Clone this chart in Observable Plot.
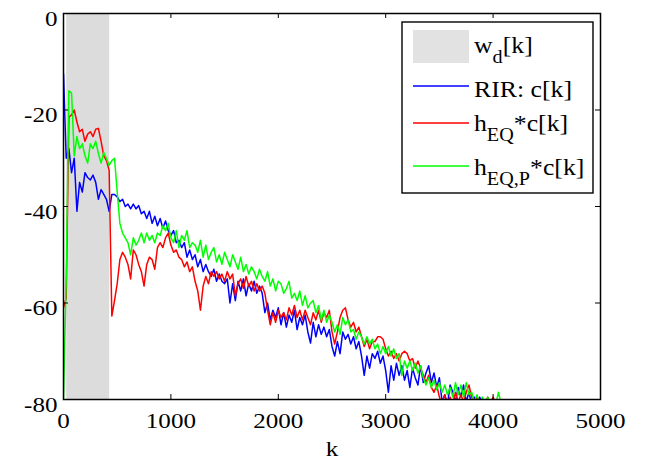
<!DOCTYPE html>
<html>
<head>
<meta charset="utf-8">
<script src="https://cdn.jsdelivr.net/npm/d3@7"></script>
<script src="https://cdn.jsdelivr.net/npm/@observablehq/plot@0.6"></script>
<style>
  html, body { margin: 0; padding: 0; background: #fff; overflow: hidden; }
  #chart { width: 647px; height: 462px; }
  #chart svg text { font-family: "Liberation Serif", "Times New Roman", "DejaVu Serif", serif !important; }
</style>
</head>
<body>
<div id="chart"></div>
<script>
// ---- data ----
const kStep = 25; // sample spacing of the listed values along k
const rirC = [
-12.5,-30,-28,-33,-30,-41,-35,-37,-33,-34,
-34.5,-33.5,-35,-38.5,-36.5,-37.5,-38.5,-41,-37.5,-37.5,
-38,-39,-38.5,-40,-39.5,-40.5,-39.5,-40.5,-39.8,-41.5,
-41,-42.5,-41,-43.5,-42,-44,-42.5,-44.5,-43,-45,
-46,-45,-47.5,-47,-48.5,-47.5,-50.5,-49,-51,-50,
-52.5,-51,-53.5,-52,-53.5,-54.5,-53,-55.5,-54,-55.5,
-56,-55,-60,-56,-59.5,-55.5,-57.5,-55,-58.5,-56,
-57.5,-55.5,-58,-56.5,-58,-62,-60,-63.5,-61.5,-63,
-61,-64.5,-62,-65,-62.5,-64,-61.5,-65.5,-63,-64.5,
-62.5,-66,-68.3,-64,-67,-64.5,-66.5,-65,-67,-65.5,
-69,-71,-68,-70.5,-66,-67.5,-66.5,-68.5,-67,-69.5,
-68,-71,-75,-71,-73.5,-70.5,-71.5,-70,-72.5,-71,
-74,-78.5,-73,-76,-72.5,-75,-73,-76,-74,-77.5,
-73.5,-75.5,-77,-73,-76.5,-74.5,-73,-76.5,-74.5,-77.5,
-75.5,-80.5,-79,-81,-77,-78.5,-80.5,-77.5,-79.5,-77,
-80.5,-78.5,-81,-79.5,-80.5,-79.5,-81,-80,-81.5
];
const hEQc = [
-61,-59,-21.5,-21,-20,-22.5,-24.5,-24,-26.5,-25,
-24.5,-25.5,-24,-23.8,-26.5,-29.5,-30.5,-32.5,-62.7,-59.5,
-56,-51,-49.5,-50.5,-52,-55,-49,-50,-52,-53.5,
-56.5,-52,-50.5,-51,-53,-48.5,-47.5,-48.5,-46.5,-45.5,
-48,-49.5,-49,-50.5,-51,-52.5,-51.5,-53.5,-52.5,-55.5,
-57.5,-61.5,-56.5,-54.5,-56,-53.5,-54.5,-53.5,-55,-54,
-55.5,-53.5,-55,-54,-58.5,-56,-55,-57,-54.5,-56.5,
-55.5,-57.5,-56,-57.5,-56.5,-58,-61.5,-64.5,-62,-64,
-61.5,-63,-62,-63.5,-61,-62.5,-60.5,-63,-61.5,-63.5,
-61.5,-63,-64.5,-62,-63.5,-61.5,-64,-62,-63,-61.5,
-66,-68.5,-66,-63,-61.5,-61,-63.5,-65,-64,-66,
-65,-67,-69,-67.5,-69.5,-68,-68,-67,-67,-67.5,
-69.5,-71,-70,-71.5,-70.5,-72,-70.5,-70,-70.5,-72,
-71.5,-73.5,-72,-73.5,-75,-76.5,-75,-77.5,-78.5,-77,
-79.5,-81,-79,-81,-79.5,-81,-78.5,-80.5,-79,-80.5,
-78.5,-77,-79.5,-81,-79.5,-81,-80,-81,-79.5,-81,
-79.5,-81
];
const hEQPc = [
-80,-55,-16,-16.5,-29.5,-25.5,-28,-27,-29.5,-31,
-27,-28,-26.5,-29,-31,-28.8,-30,-31.5,-30.5,-30,
-37,-43.5,-45.5,-46.5,-47.5,-50,-46.5,-48,-47,-45.5,
-47.5,-45.5,-47,-46,-47.5,-45.5,-46,-44,-45,-43.5,
-46.5,-47.5,-45,-48.5,-46,-47,-45,-48.5,-47.5,-48,
-49.5,-47,-50.5,-48,-51,-49.5,-48.5,-51.5,-50,-52,
-49.5,-51,-52.5,-50,-51.5,-53,-50.5,-53.5,-52,-54,
-52.5,-53.5,-55,-53,-54.5,-55.5,-53.5,-56.5,-55,-57.5,
-55.5,-56,-58,-57,-55.5,-59,-58,-59.5,-57.5,-60.5,
-58.5,-61,-60,-59.5,-62,-60.5,-63.5,-61.5,-64,-62.5,
-64,-66,-64.5,-66.5,-63,-64.5,-63.5,-66,-65.5,-67.5,
-66,-67,-68.5,-67,-68.5,-67.5,-69.5,-68.5,-70.5,-69,
-70.5,-69,-71,-69.5,-71.5,-70.5,-75,-72,-73.5,-72,
-74,-72.5,-74.5,-73,-75.5,-77,-75.5,-77.5,-76,-78,
-76.5,-78.5,-77,-79,-77.5,-79.5,-76.5,-79,-77,-79.5,
-76.5,-79,-78.5,-80.5,-79,-81,-79.5,-81,-79.5,-81,
-80.5,-81,-78.5,-81
];
const wdWindow = [30, 430];           // window w_d[k] extent in k
const xTicks = [0, 1000, 2000, 3000, 4000, 5000];
const yTicks = [0, -20, -40, -60, -80];
const xDomain = [0, 5000];
const yDomain = [-80, 0];
const xLabel = "k";
const seriesColors = ["#0000ff", "#ff0000", "#00ff00"];

// ---- layout ----
const W = 647, H = 462;
const mL = 63, mR = 47, mT = 13, mB = 63;
const innerW = W - mL - mR, innerH = H - mT - mB;
const tickLen = 5;
const serif = "Liberation Serif, Times New Roman, DejaVu Serif, serif";

const toRows = (arr) => arr.map((v, i) => ({k: i * kStep, v}));
const series = [toRows(rirC), toRows(hEQc), toRows(hEQPc)];

const svg = Plot.plot({
  width: W, height: H,
  marginLeft: mL, marginRight: mR, marginTop: mT, marginBottom: mB,
  x: {domain: xDomain, axis: null},
  y: {domain: yDomain, axis: null},
  style: {fontFamily: serif, fontSize: "22px", color: "black", background: "white"},
  marks: [
    Plot.rect([wdWindow], {x1: d => d[0], x2: d => d[1], y1: yDomain[0], y2: yDomain[1], fill: "#dcdcdc"}),
    ...series.map((rows, i) => Plot.line(rows, {x: "k", y: "v", stroke: seriesColors[i], strokeWidth: 1.5, curve: "linear", clip: true})),
    Plot.ruleX(xTicks, {x: d => d, insetTop: innerH - tickLen, stroke: "black"}),
    Plot.ruleX(xTicks, {x: d => d, insetBottom: innerH - tickLen, stroke: "black"}),
    Plot.ruleY(yTicks, {y: d => d, insetRight: innerW - tickLen, stroke: "black"}),
    Plot.ruleY(yTicks, {y: d => d, insetLeft: innerW - tickLen, stroke: "black"}),
    Plot.frame({stroke: "black", strokeWidth: 1.5}),
    Plot.text(xTicks, {x: d => d, text: d => String(d), frameAnchor: "bottom", lineAnchor: "top", dy: 13, fontSize: 22, fill: "black"}),
    Plot.text(yTicks, {y: d => d, text: d => String(d), frameAnchor: "left", textAnchor: "end", dx: -6, dy: 5, fontSize: 22, fill: "black"}),
    Plot.text([xLabel], {text: d => d, frameAnchor: "bottom", lineAnchor: "top", dy: 41, fontSize: 22, fill: "black"})
  ]
});

// horizontal stretch of the serif glyphs, as in the reference
const stretch = 1.14;
d3.select(svg).selectAll("text").each(function () {
  const t = this.getAttribute("transform");
  if (t) this.setAttribute("transform", t + ` scale(${stretch},1)`);
});

// ---- legend (inside the axes, upper right) ----
const legendItems = [
  {type: "patch", parts: [["w", 0], ["d", 1], ["[k]", 0]], y: 46},
  {type: "line", color: seriesColors[0], parts: [["RIR: c[k]", 0]], y: 86},
  {type: "line", color: seriesColors[1], parts: [["h", 0], ["EQ", 1], ["*c[k]", 0]], y: 123},
  {type: "line", color: seriesColors[2], parts: [["h", 0], ["EQ,P", 1], ["*c[k]", 0]], y: 166}
];
const baselines = [53, 97, 131, 175];
const lg = d3.select(svg).append("g").attr("fill", "black").attr("text-anchor", "start");
lg.append("rect").attr("x", 402).attr("y", 22).attr("width", 191).attr("height", 171)
  .attr("fill", "white").attr("stroke", "black").attr("stroke-width", 1.4);
legendItems.forEach((it, i) => {
  if (it.type === "patch") {
    lg.append("rect").attr("x", 413).attr("y", 30).attr("width", 56).attr("height", 33).attr("fill", "#e2e2e2");
  } else {
    lg.append("line").attr("x1", 413).attr("x2", 469).attr("y1", it.y).attr("y2", it.y)
      .attr("stroke", it.color).attr("stroke-width", 1.3);
  }
  const t = lg.append("text").attr("transform", `translate(474,${baselines[i]}) scale(1.12,1)`)
    .attr("font-size", 23).attr("text-anchor", "start");
  let sub = false;
  it.parts.forEach(([s, isSub]) => {
    const ts = t.append("tspan").text(s);
    if (isSub && !sub) { ts.attr("dy", 10).attr("font-size", 18); sub = true; }
    else if (!isSub && sub) { ts.attr("dy", -10).attr("font-size", 23); sub = false; }
    else if (isSub) ts.attr("font-size", 18);
  });
});

document.getElementById("chart").appendChild(svg);
</script>
</body>
</html>
